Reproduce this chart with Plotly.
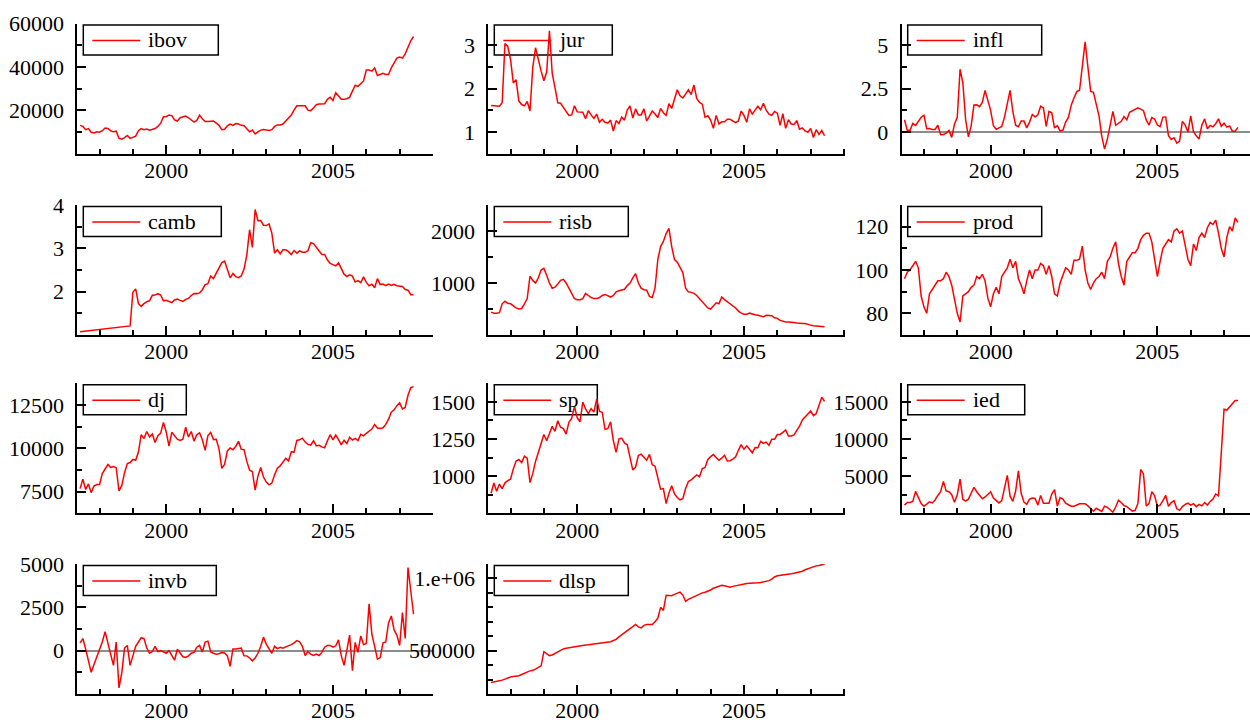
import plotly.graph_objects as go

# ---------------- data (monthly, Jun 1997 .. Jun 2007) ----------------
start_year, start_month, n_obs = 1997, 6, 121
months = [start_year + (start_month - 1 + i) / 12 for i in range(n_obs)]

ibov = [13000, 12500, 11000, 11500, 9800, 9500, 10000,
        9800, 10500, 11800, 11600, 10500, 10000, 10300, 7000, 6600, 7300, 8300, 7000,
        7500, 8000, 10500, 11500, 11000, 11300, 10800, 11000, 11500, 12500, 14000, 17000,
        17000, 17800, 17500, 15500, 15000, 16500, 16800, 17300, 16500, 15500, 14500, 15300,
        17700, 16000, 14800, 14800, 14800, 15000, 14000, 13000, 11000, 11200, 12800, 13600,
        13000, 13800, 13600, 13000, 12800, 11500, 10000, 10800, 9000, 10000, 10800, 11100,
        11000, 10600, 11000, 12500, 13200, 13200, 13600, 15000, 16500, 17800, 20000, 22000,
        22000, 22000, 22000, 20000, 19800, 21000, 22500, 22800, 23000, 23000, 25000, 26000,
        24500, 28000, 26500, 25000, 25000, 25300, 26000, 28500, 31500, 31000, 32500, 33500,
        38500, 38500, 38000, 39500, 36000, 36500, 37000, 36500, 36500, 39500, 42000, 44000,
        44500, 44000, 46000, 49000, 52000, 54000]

jur = [1.61, 1.60, 1.59, 1.59, 1.67, 3.04, 2.97,
       2.67, 2.13, 2.20, 1.71, 1.63, 1.60, 1.70, 1.48, 2.49, 2.94, 2.63, 2.40,
       2.18, 2.38, 3.33, 2.35, 2.02, 1.67, 1.66, 1.57, 1.49, 1.38, 1.39, 1.60,
       1.46, 1.45, 1.45, 1.30, 1.49, 1.39, 1.31, 1.41, 1.22, 1.29, 1.22, 1.20,
       1.27, 1.02, 1.26, 1.19, 1.34, 1.27, 1.50, 1.60, 1.32, 1.53, 1.39, 1.39,
       1.53, 1.25, 1.37, 1.48, 1.41, 1.33, 1.54, 1.44, 1.38, 1.65, 1.54, 1.74,
       1.97, 1.83, 1.78, 1.87, 1.97, 1.86, 2.08, 1.77, 1.68, 1.64, 1.34, 1.37,
       1.27, 1.08, 1.38, 1.18, 1.23, 1.23, 1.29, 1.29, 1.25, 1.21, 1.25, 1.48,
       1.38, 1.22, 1.53, 1.41, 1.50, 1.59, 1.51, 1.66, 1.50, 1.41, 1.38, 1.47,
       1.43, 1.15, 1.42, 1.08, 1.28, 1.18, 1.17, 1.26, 1.06, 1.09, 1.02, 0.99,
       1.08, 0.87, 1.05, 0.94, 1.03, 0.91]

infl = [0.70, 0.09, 0.09, 0.48, 0.37, 0.64, 0.84,
        0.96, 0.18, 0.19, 0.13, 0.14, 0.38, -0.17, -0.16, -0.08, 0.08, -0.32, 0.45,
        0.84, 3.61, 2.83, 0.71, -0.29, 0.36, 1.55, 1.56, 1.45, 1.70, 2.39, 1.81,
        1.24, 0.35, 0.15, 0.23, 0.31, 0.85, 1.57, 2.39, 1.16, 0.38, 0.29, 0.63,
        0.62, 0.23, 0.56, 1.00, 0.86, 0.98, 1.48, 1.38, 0.31, 1.18, 1.10, 0.22,
        0.36, 0.06, 0.09, 0.56, 0.83, 1.54, 1.95, 2.32, 2.40, 3.87, 5.19, 3.75,
        2.33, 2.28, 1.53, 0.92, -0.26, -1.00, -0.42, 0.38, 1.18, 0.38, 0.49, 0.61,
        0.88, 0.69, 1.13, 1.21, 1.31, 1.38, 1.31, 1.22, 0.69, 0.39, 0.82, 0.74,
        0.39, 0.30, 0.85, 0.86, -0.22, -0.44, -0.34, -0.65, -0.53, 0.60, 0.40, -0.01,
        0.92, 0.01, -0.23, -0.42, 0.38, 0.75, 0.18, 0.37, 0.29, 0.47, 0.75, 0.32,
        0.50, 0.27, 0.34, 0.04, 0.04, 0.26]

camb = [1.077, 1.085, 1.092, 1.097, 1.105, 1.112, 1.116,
        1.123, 1.130, 1.136, 1.144, 1.151, 1.158, 1.164, 1.179, 1.183, 1.192, 1.199, 1.209,
        1.983, 2.065, 1.722, 1.661, 1.723, 1.770, 1.789, 1.916, 1.922, 1.953, 1.923, 1.789,
        1.802, 1.769, 1.747, 1.807, 1.827, 1.800, 1.775, 1.823, 1.844, 1.910, 1.960, 1.955,
        1.971, 2.045, 2.162, 2.185, 2.360, 2.305, 2.431, 2.552, 2.671, 2.707, 2.529, 2.320,
        2.418, 2.348, 2.324, 2.363, 2.522, 2.844, 3.429, 3.022, 3.895, 3.636, 3.642, 3.533,
        3.526, 3.563, 3.353, 2.890, 2.967, 2.872, 2.966, 2.967, 2.923, 2.856, 2.949, 2.889,
        2.941, 2.909, 2.909, 2.945, 3.129, 3.108, 3.027, 2.935, 2.859, 2.857, 2.731, 2.654,
        2.625, 2.595, 2.666, 2.531, 2.404, 2.350, 2.388, 2.360, 2.222, 2.255, 2.207, 2.341,
        2.215, 2.135, 2.172, 2.089, 2.301, 2.164, 2.176, 2.137, 2.174, 2.143, 2.169, 2.138,
        2.125, 2.118, 2.050, 2.034, 1.929, 1.926]

risb = [440, 420, 420, 430, 600, 650, 610,
        600, 560, 520, 500, 510, 600, 700, 1130, 1050, 1000, 1100, 1250,
        1280, 1150, 1000, 900, 920, 980, 1050, 1070, 1000, 900, 800, 700,
        680, 680, 700, 800, 760, 720, 700, 700, 720, 760, 780, 760,
        730, 760, 830, 850, 870, 880, 950, 1000, 1100, 1180, 1000, 900,
        870, 860, 740, 720, 900, 1450, 1700, 1800, 1950, 2050, 1700, 1450,
        1400, 1300, 1200, 900, 830, 820, 800, 760, 700, 640, 600, 520,
        500, 560, 620, 600, 730, 680, 640, 590, 560, 520, 460, 420,
        400, 400, 420, 400, 390, 380, 360, 350, 380, 380, 370, 330,
        320, 280, 260, 250, 250, 250, 240, 230, 220, 220, 220, 200,
        190, 180, 170, 170, 165, 160]

prod = [96, 99, 100, 102, 104, 101, 88,
        83, 80, 89, 91, 93, 95, 95, 96, 99, 97, 93, 87,
        80, 76, 88, 89, 90, 92, 93, 97, 96, 98, 95, 87,
        83, 89, 92, 89, 97, 99, 101, 105, 101, 104, 96, 93,
        89, 95, 100, 96, 100, 100, 103, 102, 98, 102, 97, 89,
        88, 94, 98, 101, 100, 98, 104.5, 104.5, 105, 111, 100, 94,
        91, 94, 96, 97, 99, 96, 104, 106, 110, 113, 103, 97,
        93, 104, 106, 108, 108, 110, 114, 116, 117, 117, 113, 105,
        97, 104, 110, 112, 114, 113, 118, 119, 117, 118, 112, 105,
        102, 112, 109, 115, 117, 115, 119.5, 122, 121, 123, 117, 110,
        106, 115, 120, 118, 124, 122]

dj = [7673, 8223, 7622, 7945, 7442, 7823, 7908,
      7907, 8546, 8800, 9063, 8900, 8952, 8883, 7539, 7843, 8592, 9117, 9181,
      9359, 9307, 9786, 10789, 10560, 10971, 10655, 10829, 10337, 10730, 10878, 11497,
      10941, 10128, 10922, 10734, 10522, 10448, 10522, 11215, 10651, 10971, 10415, 10787,
      10887, 10495, 9879, 10735, 10912, 10502, 10523, 9950, 8848, 9075, 9852, 10022,
      9920, 10106, 10404, 9946, 9925, 9243, 8737, 8664, 7592, 8397, 8896, 8342,
      8054, 7891, 7992, 8480, 8850, 8985, 9234, 9416, 9275, 9801, 9782, 10454,
      10488, 10584, 10358, 10226, 10188, 10435, 10140, 10174, 10080, 10027, 10428, 10783,
      10490, 10766, 10504, 10193, 10467, 10275, 10641, 10482, 10569, 10440, 10806, 10718,
      10865, 10993, 11109, 11367, 11168, 11150, 11186, 11381, 11679, 12081, 12221, 12463,
      12622, 12269, 12354, 13063, 13500, 13550]

sp = [885, 954, 899, 947, 915, 955, 970,
      980, 1049, 1102, 1112, 1091, 1134, 1121, 957, 1017, 1099, 1164, 1229,
      1280, 1238, 1286, 1335, 1302, 1373, 1329, 1320, 1283, 1363, 1389, 1469,
      1394, 1366, 1499, 1452, 1421, 1455, 1431, 1518, 1437, 1429, 1315, 1320,
      1366, 1240, 1160, 1249, 1256, 1224, 1211, 1134, 1041, 1060, 1139, 1148,
      1130, 1107, 1147, 1077, 1067, 990, 912, 916, 815, 886, 936, 880,
      856, 841, 848, 917, 964, 975, 990, 1008, 996, 1051, 1058, 1112,
      1131, 1145, 1126, 1107, 1121, 1141, 1102, 1104, 1115, 1130, 1174, 1212,
      1181, 1204, 1181, 1157, 1192, 1191, 1234, 1220, 1229, 1207, 1249, 1248,
      1280, 1281, 1295, 1311, 1270, 1270, 1277, 1304, 1336, 1378, 1401, 1418,
      1438, 1407, 1421, 1482, 1531, 1503]

ied = [1100, 1450, 1450, 1600, 2950, 2000, 1300,
       950, 1250, 1550, 1400, 1800, 2400, 2900, 4300, 3000, 2900, 2500, 1500,
       2500, 4600, 1900, 1650, 1900, 2700, 3500, 2900, 2350, 1950, 2200, 2600,
       2900, 2050, 1700, 1400, 1700, 3500, 5100, 2300, 1600, 3000, 5700, 2700,
       1500, 1200, 1900, 2050, 2000, 1100, 2400, 1350, 1350, 1360, 2600, 3200,
       950, 2100, 1900, 1360, 1150, 950, 950, 1100, 1280, 1300, 1300, 1000,
       700, 280, 680, 450, 250, 950, 800, 480, 150, 850, 1750, 1450,
       1050, 900, 600, 300, 400, 1300, 5900, 5300, 1000, 1300, 2900, 2400,
       950, 1100, 1700, 2400, 950, 1450, 1700, 600, 400, 900, 1200, 1360,
       1100, 1300, 900, 1200, 1000, 1450, 1100, 1600, 1900, 2600, 2350, 8600,
       14000, 13900, 14300, 14700, 15200, 15200]

invb = [450, 700, 100, -600, -1250, -800, -400,
        0, 500, 1100, 450, -250, -850, 500, -2150, -1300, 150, 300, -850,
        -300, 250, 500, 750, 700, 150, -150, -50, 250, -50, 0, -80,
        -150, 0, -300, -550, 80, -150, -350, -390, -300, -150, -100, 200,
        300, -80, 500, 550, -80, -150, -200, -180, -110, -130, -300, -900,
        100, 100, 120, 150, -290, -300, -420, -590, -420, -150, 250, 780,
        380, 150, -150, 250, 120, 190, 140, 220, 270, 350, 450, 580,
        510, 250, -280, -50, -200, -280, -200, -280, -100, 200, 300, 300,
        200, 280, 620, -300, -850, 100, 900, -1150, 480, -100, 850, 350,
        420, 2700, 950, 250, -490, -400, 450, 500, 1600, 2000, 1200, 900,
        300, 2200, 700, 4800, 3500, 2100]

dlsp = [279000, 282000, 286000, 289000, 296000, 303000, 311000,
        318000, 321000, 324000, 326000, 335000, 345000, 352000, 360000, 365000, 372000, 385000, 395000,
        493000, 480000, 466000, 470000, 480000, 495000, 505000, 512000, 516000, 520000, 523000, 526000,
        530000, 535000, 537000, 540000, 541000, 544000, 547000, 550000, 551000, 553000, 556000, 558000,
        562000, 570000, 578000, 595000, 610000, 628000, 640000, 652000, 666000, 681000, 665000, 658000,
        675000, 681000, 681000, 681000, 700000, 725000, 800000, 779000, 884000, 882000, 880000, 890000,
        900000, 905000, 885000, 842000, 855000, 865000, 872000, 885000, 895000, 900000, 905000, 912000,
        920000, 932000, 938000, 945000, 952000, 950000, 943000, 940000, 945000, 949000, 955000, 960000,
        965000, 965000, 966000, 966000, 968000, 970000, 972000, 975000, 977000, 985000, 995000, 1010000,
        1018000, 1020000, 1022000, 1025000, 1028000, 1032000, 1036000, 1040000, 1043000, 1050000, 1060000, 1068000,
        1072000, 1080000, 1087000, 1090000, 1095000, 1100000]

series_names = ["ibov", "jur", "infl", "camb", "risb", "prod",
                "dj", "sp", "ied", "invb", "dlsp"]
series_values = [ibov, jur, infl, camb, risb, prod, dj, sp, ied, invb, dlsp]

# y-axis ranges / ticks (values shown on the chart)
y_ranges = [[0, 60000], [0.5, 3.5], [-1.25, 6.25], [1, 4], [0, 2500], [70, 130],
            [6250, 13750], [750, 1625], [0, 17500], [-2500, 5000], [200000, 1100000]]
y_major = [[20000, 40000, 60000], [1, 2, 3], [0, 2.5, 5], [2, 3, 4], [1000, 2000],
           [80, 100, 120], [7500, 10000, 12500], [1000, 1250, 1500],
           [5000, 10000, 15000], [0, 2500, 5000], [500000, 1000000]]
y_labels = [["20000", "40000", "60000"], ["1", "2", "3"], ["0", "2.5", "5"],
            ["2", "3", "4"], ["1000", "2000"], ["80", "100", "120"],
            ["7500", "10000", "12500"], ["1000", "1250", "1500"],
            ["5000", "10000", "15000"], ["0", "2500", "5000"], ["500000", "1.e+06"]]
y_minor = [[10000, 30000, 50000], [1.5, 2.5, 3.5], [-1.25, 1.25, 3.75, 6.25],
           [1.5, 2.5, 3.5], [500, 1500, 2500], [90, 110, 130],
           [6250, 8750, 11250, 13750], [875, 1125, 1375, 1625],
           [2500, 7500, 12500, 17500], [-1250, 1250, 3750],
           [300000, 400000, 600000, 700000, 800000, 900000, 1100000]]
zero_line = [False, False, True, False, False, False, False, False, False, True, False]

x_major = [2000, 2005]
x_labels = ["2000", "2005"]
x_minor = [1998, 1999, 2001, 2002, 2003, 2004, 2006, 2007, 2008]

# ---------------- layout geometry (pixels) ----------------
W, H = 1250, 724
col_left = [77.3, 488.3, 901.7]
col_right = [433.0, 845.0, 1250.0]
row_top = [23.5, 205.0, 383.3, 564.0]
row_bot = [153.5, 335.0, 513.3, 694.0]
x_start = 1997 + 4 / 12
px_per_year = (433.0 - 77.3) / (2008.0 - x_start)
legend_w = [135, 118, 134, 138, 134, 134, 103, 103, 117, 133, 134]
legend_h = 30

FONT = "Liberation Serif"
FSIZE = 22
fig = go.Figure()
layout = dict(width=W, height=H,
              margin=dict(l=0, r=0, t=0, b=0, pad=0, autoexpand=False),
              paper_bgcolor="white", plot_bgcolor="white", showlegend=False,
              template="none",
              font=dict(family=FONT, size=FSIZE, color="black"))
shapes, annotations = [], []

def px(x):
    return x / W

def py(y):
    return 1 - y / H

for k, (name, vals) in enumerate(zip(series_names, series_values)):
    r, c = divmod(k, 3)
    sfx = "" if k == 0 else str(k + 1)
    fig.add_trace(go.Scatter(x=months, y=vals, mode="lines", name=name,
                             line=dict(color="#ff0000", width=1.5),
                             xaxis="x" + sfx, yaxis="y" + sfx, hoverinfo="x+y"))
    x_end = x_start + (col_right[c] - col_left[c]) / px_per_year
    layout["xaxis" + sfx] = dict(
        domain=[px(col_left[c]), px(col_right[c])], anchor="y" + sfx,
        range=[x_start, x_end], showgrid=False, zeroline=False, automargin=False,
        showline=True, linecolor="black", linewidth=2,
        ticks="inside", ticklen=9, tickwidth=2, tickcolor="black",
        tickmode="array", tickvals=x_major, ticktext=x_labels,
        ticklabelstandoff=-4,
        minor=dict(tickmode="array", tickvals=x_minor, ticks="inside",
                   ticklen=5, tickwidth=2, tickcolor="black", showgrid=False))
    layout["yaxis" + sfx] = dict(
        domain=[py(row_bot[r]), py(row_top[r])], anchor="x" + sfx,
        range=y_ranges[k], showgrid=False, automargin=False,
        zeroline=zero_line[k], zerolinecolor="#8c8c8c", zerolinewidth=1.5,
        showline=True, linecolor="black", linewidth=2,
        ticks="inside", ticklen=9, tickwidth=2, tickcolor="black",
        tickmode="array", tickvals=y_major[k], ticktext=y_labels[k],
        ticklabelstandoff=7,
        minor=dict(tickmode="array", tickvals=y_minor[k], ticks="inside",
                   ticklen=5, tickwidth=2, tickcolor="black", showgrid=False))
    # legend box
    bx = col_left[c] + 6
    by = row_top[r] + 1.5
    shapes.append(dict(type="rect", xref="paper", yref="paper",
                       x0=px(bx), x1=px(bx + legend_w[k]),
                       y0=py(by + legend_h), y1=py(by),
                       line=dict(color="black", width=1.5), fillcolor="rgba(0,0,0,0)",
                       layer="below"))
    shapes.append(dict(type="line", xref="paper", yref="paper",
                       x0=px(bx + 9), x1=px(bx + 57),
                       y0=py(by + 15.5), y1=py(by + 15.5),
                       line=dict(color="#ff0000", width=1.5)))
    annotations.append(dict(text=name, xref="paper", yref="paper",
                            x=px(bx + 63), y=py(by + 15), xanchor="left",
                            yanchor="middle", showarrow=False,
                            font=dict(family=FONT, size=FSIZE, color="black")))

layout["shapes"] = shapes
layout["annotations"] = annotations
fig.update_layout(**layout)
fig.write_html("out.html",
               config={"displayModeBar": False},
               post_script="document.body.style.margin='0';"
                           "document.body.style.overflow='hidden';")
